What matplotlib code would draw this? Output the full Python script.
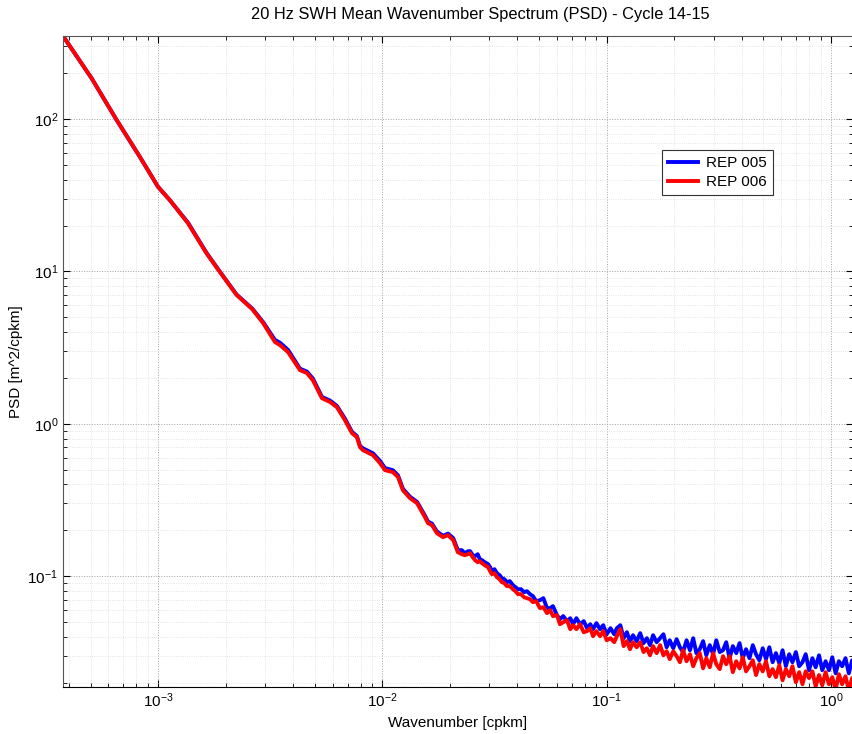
import numpy as np
import matplotlib
matplotlib.use('Agg')
import matplotlib.pyplot as plt

# low wavenumber part (smooth, both products almost identical)
wavenumber_low = [3.77e-4, 5.06e-4, 6.54e-4, 8.29e-4, 1.00e-3, 1.128e-3, 1.36e-3, 1.647e-3, 1.874e-3, 2.24e-3,
                  2.63e-3, 2.94e-3, 3.32e-3, 3.50e-3, 3.80e-3, 4.29e-3, 4.61e-3, 4.90e-3, 5.38e-3, 5.84e-3,
                  6.27e-3, 6.81e-3, 7.32e-3, 7.70e-3, 7.95e-3, 8.19e-3, 9.08e-3, 9.76e-3, 1.027e-2, 1.115e-2,
                  1.174e-2, 1.235e-2, 1.327e-2, 1.427e-2, 1.549e-2, 1.597e-2, 1.664e-2, 1.751e-2, 1.863e-2, 1.962e-2]
psd_rep005_low = [351, 185, 98.5, 56.6, 35.9, 29.4, 20.9, 13.2, 10.1, 7.05,
                  5.7, 4.65, 3.55, 3.40, 3.05, 2.30, 2.20, 1.98, 1.50, 1.42,
                  1.31, 1.08, 0.885, 0.830, 0.715, 0.690, 0.640, 0.570, 0.512, 0.495,
                  0.458, 0.374, 0.332, 0.307, 0.249, 0.228, 0.221, 0.196, 0.184, 0.190]
psd_rep006_low = [351, 185, 98.5, 56.6, 35.9, 29.4, 20.7, 13.1, 10.05, 7.0,
                  5.65, 4.58, 3.44, 3.28, 2.95, 2.25, 2.15, 1.93, 1.47, 1.39,
                  1.285, 1.056, 0.868, 0.817, 0.702, 0.671, 0.622, 0.551, 0.496, 0.481,
                  0.446, 0.366, 0.325, 0.301, 0.2435, 0.2225, 0.2159, 0.1913, 0.1801, 0.1856]

# high wavenumber part (noisy)
wavenumber_high = [0.0207, 0.0217, 0.0226, 0.0233, 0.0241, 0.0246, 0.0253, 0.0259, 0.0266, 0.0272,
                   0.0278, 0.0286, 0.0296, 0.0302, 0.0308, 0.0316, 0.0324, 0.0333, 0.0341, 0.0350,
                   0.0359, 0.0370, 0.0382, 0.0392, 0.0402, 0.0415, 0.0428, 0.0441, 0.0455, 0.0469,
                   0.0485, 0.0504, 0.0522, 0.0542, 0.0560, 0.0576, 0.0600, 0.0619, 0.0640, 0.0665,
                   0.0688, 0.0708, 0.0733, 0.0760, 0.0790, 0.0817, 0.0845, 0.0869, 0.0900, 0.0934,
                   0.0965, 0.1000, 0.104, 0.108, 0.111, 0.115, 0.119, 0.123, 0.127, 0.131,
                   0.136, 0.141, 0.146, 0.151, 0.156, 0.161, 0.167, 0.173, 0.179, 0.185,
                   0.191, 0.198, 0.205, 0.212, 0.219, 0.227, 0.235, 0.243, 0.251, 0.260,
                   0.269, 0.278, 0.288, 0.298, 0.308, 0.319, 0.330, 0.341, 0.353, 0.365,
                   0.378, 0.391, 0.404, 0.418, 0.433, 0.448, 0.463, 0.479, 0.496, 0.513,
                   0.531, 0.549, 0.568, 0.588, 0.608, 0.629, 0.651, 0.673, 0.697, 0.721,
                   0.746, 0.771, 0.798, 0.826, 0.854, 0.884, 0.914, 0.946, 0.979, 1.013,
                   1.048, 1.084, 1.121, 1.160, 1.200, 1.242, 1.285]
psd_rep005_high = [0.1773, 0.1479, 0.1479, 0.1413, 0.1457, 0.1457, 0.1371, 0.1351, 0.1392, 0.1291,
                   0.1272, 0.1234, 0.1197, 0.1144, 0.1077, 0.1110, 0.1045, 0.1014, 0.0969, 0.0954,
                   0.0912, 0.0926, 0.0872, 0.0846, 0.0820, 0.0820, 0.0784, 0.0796, 0.0761, 0.0738,
                   0.0684, 0.0695, 0.0716, 0.0616, 0.0616, 0.0635, 0.0554, 0.0521, 0.0546, 0.0506,
                   0.0529, 0.0483, 0.0529, 0.0483, 0.0506, 0.0455, 0.0483, 0.0448, 0.0491, 0.0448,
                   0.0476, 0.0415, 0.0455, 0.0415, 0.0455, 0.0476, 0.0391, 0.0428, 0.0374, 0.0409,
                   0.0374, 0.0422, 0.0363, 0.0391, 0.0352, 0.0409, 0.0368, 0.0391, 0.0415, 0.0341,
                   0.0379, 0.0336, 0.0385, 0.0341, 0.0317, 0.0379, 0.0326, 0.0391, 0.0312, 0.0331,
                   0.0374, 0.0302, 0.0352, 0.0307, 0.0379, 0.0317, 0.0326, 0.0368, 0.0289, 0.0347,
                   0.0312, 0.0363, 0.0289, 0.0331, 0.0289, 0.0352, 0.0307, 0.0280, 0.0336, 0.0285,
                   0.0341, 0.0272, 0.0312, 0.0268, 0.0326, 0.0256, 0.0307, 0.0272, 0.0317, 0.0256,
                   0.0272, 0.0307, 0.0241, 0.0289, 0.0252, 0.0302, 0.0241, 0.0276, 0.0241, 0.0293,
                   0.0230, 0.0276, 0.0256, 0.0289, 0.0230, 0.0280, 0.0241]
psd_rep006_high = [0.1720, 0.1435, 0.1392, 0.1371, 0.1392, 0.1413, 0.1330, 0.1272, 0.1234, 0.1253,
                   0.1215, 0.1179, 0.1144, 0.1077, 0.1029, 0.1045, 0.0984, 0.0954, 0.0912, 0.0898,
                   0.0859, 0.0859, 0.0820, 0.0796, 0.0761, 0.0761, 0.0727, 0.0716, 0.0705, 0.0674,
                   0.0684, 0.0616, 0.0625, 0.0571, 0.0597, 0.0546, 0.0554, 0.0483, 0.0498, 0.0513,
                   0.0448, 0.0476, 0.0448, 0.0483, 0.0428, 0.0435, 0.0455, 0.0403, 0.0435, 0.0403,
                   0.0435, 0.0379, 0.0391, 0.0368, 0.0403, 0.0448, 0.0347, 0.0374, 0.0331, 0.0368,
                   0.0341, 0.0368, 0.0317, 0.0336, 0.0302, 0.0347, 0.0312, 0.0352, 0.0302, 0.0321,
                   0.0285, 0.0321, 0.0298, 0.0272, 0.0326, 0.0276, 0.0307, 0.0256, 0.0289, 0.0312,
                   0.0248, 0.0289, 0.0252, 0.0312, 0.0264, 0.0245, 0.0298, 0.0264, 0.0298, 0.0234,
                   0.0276, 0.0248, 0.0293, 0.0237, 0.0256, 0.0280, 0.0224, 0.0264, 0.0237, 0.0276,
                   0.0220, 0.0245, 0.0217, 0.0260, 0.0207, 0.0245, 0.0220, 0.0256, 0.0201, 0.0234,
                   0.0195, 0.0237, 0.0214, 0.0237, 0.0189, 0.0224, 0.0192, 0.0234, 0.0195, 0.0217,
                   0.0180, 0.0227, 0.0195, 0.0220, 0.0178, 0.0214, 0.0180]

series_labels = ['REP 005', 'REP 006']
series_colors = ['#0000ff', '#ff0000']


def main():
    plt.rcParams['font.family'] = ['Liberation Sans', 'DejaVu Sans']
    plt.rcParams['mathtext.fontset'] = 'custom'
    plt.rcParams['mathtext.rm'] = 'Liberation Sans'
    plt.rcParams['axes.unicode_minus'] = False

    k = np.array(wavenumber_low + wavenumber_high)
    psd005 = np.array(psd_rep005_low + psd_rep005_high)
    psd006 = np.array(psd_rep006_low + psd_rep006_high)

    fig = plt.figure(figsize=(8.53, 7.34), dpi=100)
    ax = fig.add_axes([63 / 853, 47 / 734, 790 / 853, 651 / 734])

    ax.loglog(k, psd005, color=series_colors[0], lw=2.8, label=series_labels[0])
    ax.loglog(k, psd006, color=series_colors[1], lw=2.8, label=series_labels[1])

    ax.set_xlim(3.77e-4, 1.253)
    ax.set_ylim(0.0187, 351)

    ax.grid(True, which='major', ls=':', color='#a0a0a0', lw=0.7)
    ax.grid(True, which='minor', ls=':', color='#dcdcdc', lw=0.6)
    ax.tick_params(which='both', direction='in', top=True, right=True, labelsize=11)
    ax.tick_params(which='major', length=5)
    ax.tick_params(which='minor', length=3)
    for s in ax.spines.values():
        s.set_color('#555555')
        s.set_linewidth(0.8)
    ax.spines['bottom'].set_color('black')

    fig.text(480 / 853, 1 - 14 / 734, '20 Hz SWH Mean Wavenumber Spectrum (PSD) - Cycle 14-15',
             fontsize=11.8, ha='center', va='center')
    ax.set_xlabel('Wavenumber [cpkm]', fontsize=11, labelpad=4)
    ax.set_ylabel('PSD [m^2/cpkm]', fontsize=11, labelpad=3)

    leg = ax.legend(loc='upper left', bbox_to_anchor=(0.758, 0.825), borderaxespad=0,
                    fancybox=False, edgecolor='#333333', framealpha=1, fontsize=11,
                    handlelength=2.0, handletextpad=0.5, borderpad=0.4, labelspacing=0.35)
    leg.get_frame().set_linewidth(0.8)

    fig.savefig('out.png', dpi=100)


main()
